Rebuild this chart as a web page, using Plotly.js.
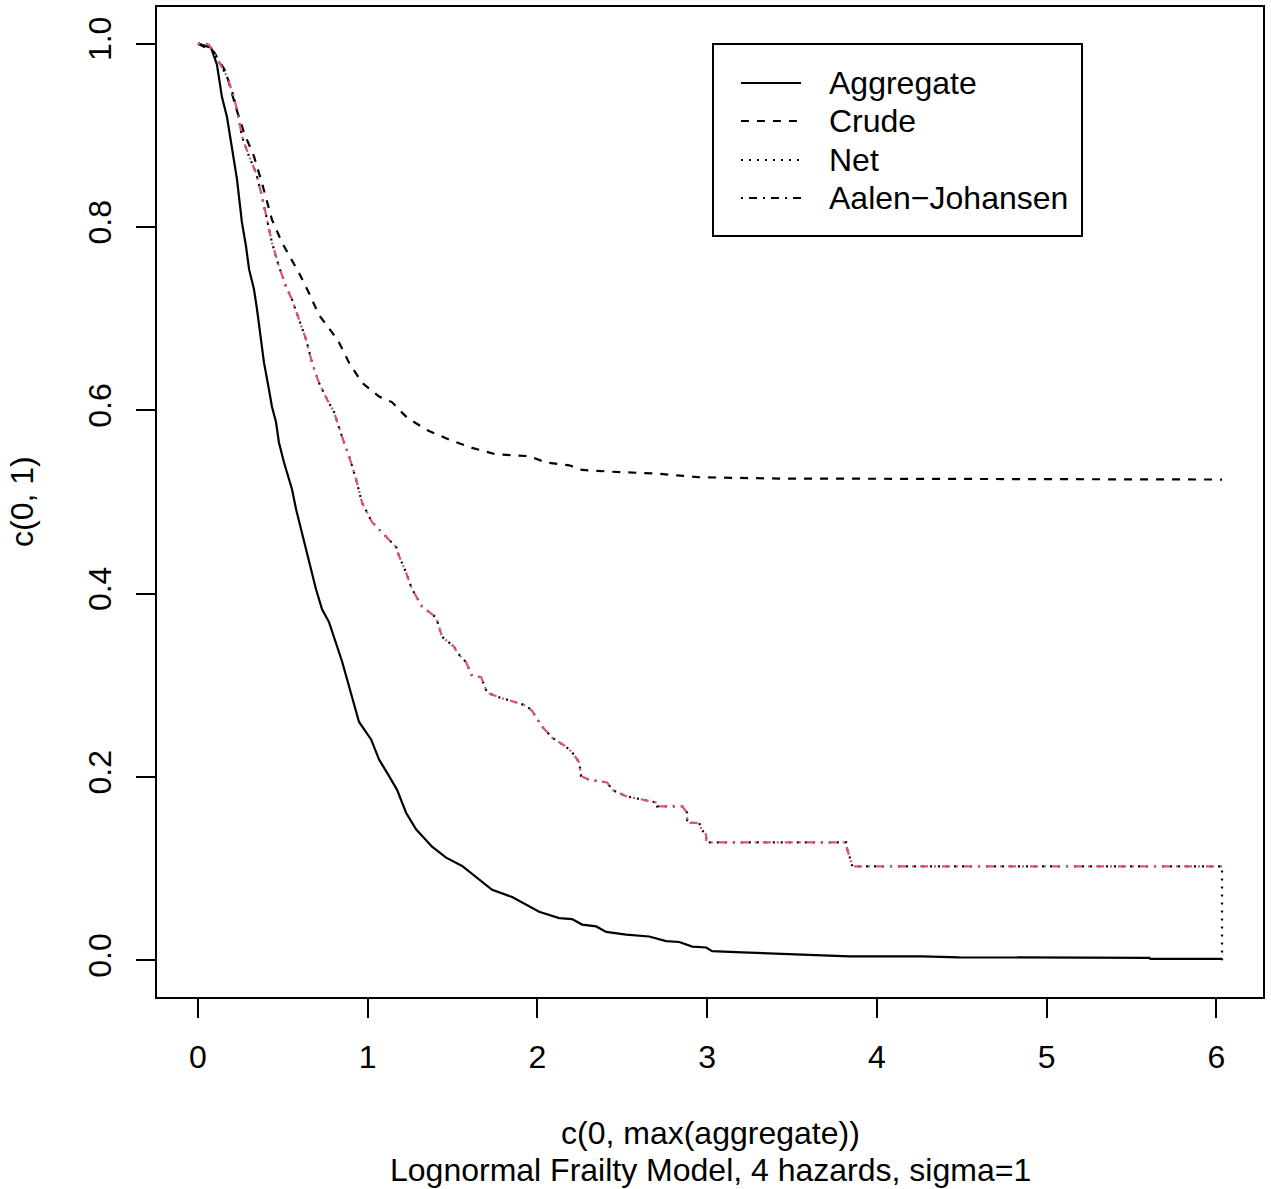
<!DOCTYPE html>
<html>
<head>
<meta charset="utf-8">
<script src="https://cdn.plot.ly/plotly-3.0.1.min.js"></script>
<style>
html,body{margin:0;padding:0;background:#fff;}
#chart{width:1271px;height:1189px;}
</style>
</head>
<body>
<div id="chart"></div>
<script>
// ---- data ----
const aggX = [0, 0.077, 0.112, 0.141, 0.171, 0.200, 0.230, 0.259, 0.283, 0.301, 0.330, 0.348, 0.371, 0.389, 0.418, 0.436, 0.460, 0.477, 0.507, 0.536, 0.554, 0.578, 0.607, 0.637, 0.666, 0.695, 0.731, 0.772, 0.849, 0.890, 0.949, 1.020, 1.067, 1.126, 1.173, 1.226, 1.285, 1.379, 1.462, 1.556, 1.656, 1.733, 1.851, 2.010, 2.128, 2.204, 2.263, 2.346, 2.405, 2.523, 2.658, 2.758, 2.835, 2.912, 2.994, 3.029, 3.206, 3.601, 3.837, 4.267, 4.485, 5.605, 5.610, 6.033];
const aggY = [1.0, 0.9956, 0.977, 0.942, 0.920, 0.888, 0.852, 0.805, 0.779, 0.754, 0.732, 0.710, 0.680, 0.652, 0.623, 0.604, 0.587, 0.565, 0.543, 0.525, 0.514, 0.492, 0.470, 0.448, 0.426, 0.405, 0.383, 0.369, 0.326, 0.299, 0.260, 0.241, 0.219, 0.201, 0.186, 0.161, 0.143, 0.124, 0.112, 0.103, 0.088, 0.077, 0.069, 0.053, 0.046, 0.045, 0.039, 0.037, 0.031, 0.028, 0.026, 0.021, 0.020, 0.015, 0.014, 0.010, 0.0087, 0.0065, 0.0044, 0.0044, 0.0033, 0.0027, 0.0016, 0.0016];

const crudeX = [0, 0.094, 0.165, 0.224, 0.271, 0.330, 0.377, 0.436, 0.495, 0.554, 0.595, 0.654, 0.713, 0.790, 0.831, 0.890, 0.967, 1.067, 1.143, 1.232, 1.344, 1.479, 1.615, 1.756, 1.951, 2.051, 2.187, 2.263, 2.440, 2.699, 2.876, 2.953, 3.424, 6.033];
const crudeY = [1.0, 0.991, 0.969, 0.930, 0.903, 0.877, 0.848, 0.808, 0.783, 0.764, 0.750, 0.728, 0.704, 0.685, 0.674, 0.652, 0.630, 0.615, 0.609, 0.592, 0.579, 0.568, 0.559, 0.552, 0.550, 0.543, 0.540, 0.535, 0.533, 0.531, 0.528, 0.527, 0.5256, 0.5245];

const ajX = [0, 0.065, 0.124, 0.171, 0.212, 0.242, 0.259, 0.301, 0.342, 0.371, 0.407, 0.436, 0.477, 0.519, 0.554, 0.595, 0.637, 0.672, 0.713, 0.760, 0.802, 0.849, 0.890, 0.931, 0.967, 1.026, 1.084, 1.167, 1.185, 1.226, 1.261, 1.320, 1.403, 1.438, 1.509, 1.526, 1.580, 1.615, 1.668, 1.703, 1.774, 1.862, 1.933, 1.969, 2.027, 2.086, 2.169, 2.204, 2.246, 2.257, 2.304, 2.411, 2.440, 2.523, 2.599, 2.705, 2.705, 2.853, 2.882, 2.882, 2.953, 2.965, 2.994, 2.994, 3.819, 3.825, 3.849, 3.855, 6.033];
const ajY = [1.0, 0.9989, 0.980, 0.964, 0.942, 0.917, 0.899, 0.877, 0.859, 0.838, 0.808, 0.783, 0.757, 0.735, 0.721, 0.699, 0.677, 0.652, 0.630, 0.612, 0.598, 0.571, 0.550, 0.525, 0.499, 0.478, 0.467, 0.451, 0.441, 0.423, 0.405, 0.386, 0.374, 0.353, 0.342, 0.336, 0.325, 0.310, 0.309, 0.292, 0.287, 0.282, 0.278, 0.272, 0.255, 0.243, 0.233, 0.227, 0.216, 0.201, 0.197, 0.194, 0.186, 0.179, 0.176, 0.172, 0.168, 0.168, 0.161, 0.150, 0.150, 0.143, 0.137, 0.1287, 0.1287, 0.121, 0.107, 0.1025, 0.1025];

const netX = [0, 0.065, 0.124, 0.171, 0.212, 0.242, 0.259, 0.301, 0.342, 0.371, 0.407, 0.436, 0.477, 0.519, 0.554, 0.595, 0.637, 0.672, 0.713, 0.760, 0.802, 0.849, 0.890, 0.931, 0.967, 1.026, 1.084, 1.167, 1.185, 1.226, 1.261, 1.320, 1.403, 1.438, 1.509, 1.526, 1.580, 1.615, 1.668, 1.703, 1.774, 1.862, 1.933, 1.969, 2.027, 2.086, 2.169, 2.204, 2.246, 2.257, 2.304, 2.411, 2.440, 2.523, 2.599, 2.705, 2.705, 2.853, 2.882, 2.882, 2.953, 2.965, 2.994, 2.994, 3.819, 3.825, 3.849, 3.855, 6.033, 6.033];
const netY = [1.0, 0.9989, 0.980, 0.964, 0.942, 0.917, 0.899, 0.877, 0.859, 0.838, 0.808, 0.783, 0.757, 0.735, 0.721, 0.699, 0.677, 0.652, 0.630, 0.612, 0.598, 0.571, 0.550, 0.525, 0.499, 0.478, 0.467, 0.451, 0.441, 0.423, 0.405, 0.386, 0.374, 0.353, 0.342, 0.336, 0.325, 0.310, 0.309, 0.292, 0.287, 0.282, 0.278, 0.272, 0.255, 0.243, 0.233, 0.227, 0.216, 0.201, 0.197, 0.194, 0.186, 0.179, 0.176, 0.172, 0.168, 0.168, 0.161, 0.150, 0.150, 0.143, 0.137, 0.1287, 0.1287, 0.121, 0.107, 0.1025, 0.1025, 0.0];

const xTicks = [0, 1, 2, 3, 4, 5, 6];
const xTickLabels = ["0", "1", "2", "3", "4", "5", "6"];
const yTicks = [0, 0.2, 0.4, 0.6, 0.8, 1.0];
const yTickLabels = ["0.0", "0.2", "0.4", "0.6", "0.8", "1.0"];

const legendNames = ["Aggregate", "Crude", "Net", "Aalen\u2212Johansen"];
const xTitle = "c(0, max(aggregate))";
const subTitle = "Lognormal Frailty Model, 4 hazards, sigma=1";
const yTitle = "c(0, 1)";

// ---- styles ----
const FONT = "Liberation Sans, Arial, Helvetica, sans-serif";
const FS = 32;
const RED = "#DF536B";
const dashes = ["solid", "8px,8px", "2px,6px", "2px,6px,8px,6px"];
const LW = 2.2;

const xmax = 6.033;
const xr = [-0.04 * xmax, 1.04 * xmax];
const yr = [-0.04, 1.04];

const traces = [
  {x: aggX, y: aggY, mode: "lines", line: {color: "black", width: LW, dash: dashes[0]}, showlegend: false, hoverinfo: "skip"},
  {x: crudeX, y: crudeY, mode: "lines", line: {color: "black", width: LW, dash: dashes[1]}, showlegend: false, hoverinfo: "skip"},
  {x: netX, y: netY, mode: "lines", line: {color: "black", width: LW, dash: dashes[2]}, showlegend: false, hoverinfo: "skip"},
  {x: ajX, y: ajY, mode: "lines", line: {color: RED, width: LW, dash: dashes[3]}, showlegend: false, hoverinfo: "skip"}
];

// plot area in pixels: left 157, right 1263, top 7, bottom 997
const L = 157, R = 1263, T = 7, B = 997, W = 1271, H = 1189;
const px2x = p => (p - L) / (R - L);
const px2y = p => (B - p) / (B - T);

const shapes = [];
const annotations = [];
// legend box
shapes.push({type: "rect", xref: "paper", yref: "paper", x0: px2x(713), x1: px2x(1082), y0: px2y(236), y1: px2y(44), line: {color: "black", width: 2}, fillcolor: "rgba(0,0,0,0)"});
const rows = [83, 121, 160, 198];
legendNames.forEach((name, i) => {
  shapes.push({type: "line", xref: "paper", yref: "paper", x0: px2x(741), x1: px2x(801), y0: px2y(rows[i]), y1: px2y(rows[i]), line: {color: "black", width: LW, dash: dashes[i]}});
  annotations.push({xref: "paper", yref: "paper", x: px2x(827), y: px2y(rows[i]), xanchor: "left", yanchor: "middle", text: name, showarrow: false, font: {family: FONT, size: FS, color: "black"}});
});
annotations.push({xref: "paper", yref: "paper", x: 0.5, y: px2y(1133), xanchor: "center", yanchor: "middle", text: xTitle, showarrow: false, font: {family: FONT, size: FS, color: "black"}});
annotations.push({xref: "paper", yref: "paper", x: 0.5, y: px2y(1170), xanchor: "center", yanchor: "middle", text: subTitle, showarrow: false, font: {family: FONT, size: FS, color: "black"}});
annotations.push({xref: "paper", yref: "paper", x: px2x(22), y: 0.5, xanchor: "center", yanchor: "middle", textangle: -90, text: yTitle, showarrow: false, font: {family: FONT, size: FS, color: "black"}});

const layout = {
  width: W, height: H,
  margin: {l: L, r: W - R, t: T, b: H - B, pad: 0},
  paper_bgcolor: "white", plot_bgcolor: "white",
  font: {family: FONT, size: FS, color: "black"},
  showlegend: false,
  xaxis: {range: xr, tickmode: "array", tickvals: xTicks, ticktext: xTickLabels, ticks: "outside", ticklen: 19, tickwidth: 2, tickcolor: "black",
          showline: true, mirror: true, linecolor: "black", linewidth: 2, showgrid: false, zeroline: false,
          tickfont: {family: FONT, size: FS, color: "black"}, ticklabelstandoff: 12},
  yaxis: {range: yr, tickmode: "array", tickvals: yTicks, ticktext: yTickLabels, ticks: "outside", ticklen: 19, tickwidth: 2, tickcolor: "black",
          showline: true, mirror: true, linecolor: "black", linewidth: 2, showgrid: false, zeroline: false, tickangle: -90,
          tickfont: {family: FONT, size: FS, color: "black"}, ticklabelstandoff: 12},
  shapes: shapes,
  annotations: annotations
};

Plotly.newPlot("chart", traces, layout, {staticPlot: true, displayModeBar: false});
</script>
</body>
</html>
